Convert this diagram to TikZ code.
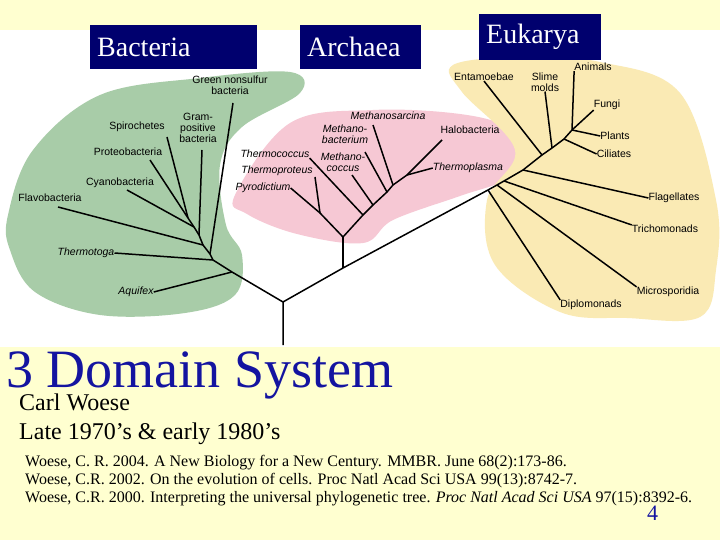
\documentclass[tikz,border=0pt]{standalone}
\usepackage{fontspec}
\setmainfont{Liberation Serif}
\newfontfamily\lab{Liberation Sans}
\begin{document}
\begin{tikzpicture}[x=1pt,y=-1pt,
  lb/.style={font=\lab\fontsize{10.5}{11}\selectfont,inner sep=0pt,align=center},
  il/.style={lb,font=\lab\itshape\fontsize{10.5}{11}\selectfont},
  br/.style={line width=1.5pt},
  hdr/.style={fill=hdrblue,text=white,font=\fontsize{28}{30}\selectfont,inner ysep=0pt,inner xsep=7pt,anchor=north west,text width=#1,align=left},
  ref/.style={font=\fontsize{16}{17}\selectfont,anchor=base west,inner sep=0pt}]
\definecolor{bg}{RGB}{255,255,208}
\definecolor{gblob}{RGB}{168,204,168}
\definecolor{pblob}{RGB}{246,200,212}
\definecolor{yblob}{RGB}{250,234,180}
\definecolor{hdrblue}{RGB}{0,0,110}
\definecolor{ttl}{RGB}{20,20,160}
\useasboundingbox (0,0) rectangle (720,540);
\fill[bg] (0,0) rectangle (720,540);
\fill[white] (0,30) rectangle (720,347);
% blobs
\fill[gblob] plot[smooth cycle,tension=0.6] coordinates{(8,215) (33,150) (100,95) (200,78) (290,72) (300,93) (242,127) (220,165) (226,225) (242,255) (235,295) (185,313) (100,315) (35,292) (10,250)};
\fill[pblob] plot[smooth cycle,tension=0.6] coordinates{(235,195) (290,123) (373,110) (460,114) (508,128) (522,157) (505,180) (460,196) (393,220) (363,243) (297,234) (247,214)};
\fill[yblob] plot[smooth cycle,tension=0.6] coordinates{(453,65) (520,57) (600,62) (680,93) (716,200) (716,270) (700,317) (627,318) (560,312) (495,265) (487,200) (515,150) (462,92)};
% headers
\node[hdr=153pt,minimum height=44pt] (hb) at (90,25) {Bacteria};
\node[hdr=107pt,minimum height=44pt] (ha) at (300,25) {Archaea};
\node[hdr=108pt,minimum height=46pt] (he) at (479,14) {Eukarya};
% trunk
\coordinate (root) at (283,345);
\coordinate (r1) at (283,302);
\coordinate (a0) at (343,268);
\coordinate (e1) at (488,190);
\coordinate (e2) at (497,185);
\coordinate (e3) at (504,181);
\coordinate (e4) at (523,170);
\coordinate (e5) at (542,155);
\coordinate (e6) at (552,148);
\coordinate (e7) at (564,139);
\coordinate (e8) at (572,130);
\draw[br] (root)--(r1)--(a0)--(e1)--(e2)--(e3)--(e4)--(e5)--(e6)--(e7)--(e8);
% eukarya leaves
\node[lb] (dip) at (591,305) {Diplomonads};
\node[lb] (mic) at (668,292) {Microsporidia};
\node[lb] (tri) at (665,229) {Trichomonads};
\node[lb] (fla) at (674,198) {Flagellates};
\node[lb] (ent) at (484,77) {Entamoebae};
\node[lb] (sli) at (545,82) {Slime\\molds};
\node[lb] (ani) at (593,67) {Animals};
\node[lb] (fun) at (607,105) {Fungi};
\node[lb] (pla) at (615,136) {Plants};
\node[lb] (cil) at (614,154) {Ciliates};
\draw[br] (e1)--(dip.north west);
\draw[br] (e2)--(mic.north west);
\draw[br] (e3)--(tri.north west);
\draw[br] (e4)--(fla.west);
\draw[br] (e5)--(ent.south);
\draw[br] (e6)--(sli.south);
\draw[br] (e8)--(ani.south west);
\draw[br] (e8)--(fun.south west);
\draw[br] (e8)--(pla.west);
\draw[br] (e7)--(cil.west);
% archaea
\coordinate (a1) at (343,237);
\coordinate (a2) at (320,213);
\coordinate (a3) at (363,215);
\coordinate (a4) at (373,205);
\coordinate (a5) at (387,192);
\coordinate (a6) at (393,185);
\coordinate (a7) at (407,175);
\draw[br] (a0)--(a1);
\node[il] (pyr) at (263,188) {Pyrodictium};
\node[il] (thp) at (277,171) {Thermoproteus};
\node[il] (thc) at (275,154) {Thermococcus};
\node[il] (mco) at (343,162) {Methano-\\coccus};
\node[il] (mba) at (345,134) {Methano-\\bacterium};
\node[il] (msa) at (388,116) {Methanosarcina};
\node[lb] (hal) at (470,130) {Halobacteria};
\node[il] (tpl) at (468,168) {Thermoplasma};
\draw[br] (a1)--(a2)--(pyr.east);
\draw[br] (a2)--(315,177);
\draw[br] (a1)--(a3)--(a4)--(a5)--(a6)--(a7)--(442,140);
\draw[br] (a3)--(thc.south east);
\draw[br] (a4)--(352,175);
\draw[br] (a5)--(365,152);
\draw[br] (a6)--(373,125);
\draw[br] (a7)--(tpl.west);
% bacteria
\coordinate (b1) at (232,272);
\coordinate (b2) at (213,260);
\coordinate (b3) at (210,254);
\coordinate (b4) at (203,245);
\coordinate (b5) at (199,235);
\coordinate (b6) at (194,227);
\coordinate (b7) at (188,218);
\draw[br] (r1)--(b1)--(b2)--(b3)--(b4)--(b5)--(b6)--(b7);
\node[il] (aqu) at (136,292) {Aquifex};
\node[il] (tht) at (86,253) {Thermotoga};
\node[lb] (gns) at (230,85) {Green nonsulfur\\bacteria};
\node[lb] (fla2) at (50,198) {Flavobacteria};
\node[lb] (cya) at (120,183) {Cyanobacteria};
\node[lb] (gpb) at (198,128) {Gram-\\positive\\bacteria};
\node[lb] (pro) at (128,152) {Proteobacteria};
\node[lb] (spi) at (137,127) {Spirochetes};
\draw[br] (b1)--(aqu.east);
\draw[br] (b2)--(tht.east);
\draw[br] (b3)--(233,103);
\draw[br] (b4)--(58,207);
\draw[br] (b5)--(202,150);
\draw[br] (b6)--(127,190);
\draw[br] (b7)--(150,160);
\draw[br] (b7)--(167,137);
% text
\node[font=\fontsize{54}{56}\selectfont,text=ttl,anchor=base west,inner sep=0pt] (title) at (6,387) {3 Domain System};
\node[font=\fontsize{24}{26}\selectfont,anchor=base west,inner sep=0pt] (cw) at (19,410) {Carl Woese};
\node[font=\fontsize{24}{26}\selectfont,anchor=base west,inner sep=0pt] (late) at (19,439) {Late 1970’s \& early 1980’s};
\node[ref] (r1t) at (25,466) {Woese, C. R. 2004. A New Biology for a New Century. MMBR. June 68(2):173-86.};
\node[ref] (r2t) at (25,484) {Woese, C.R. 2002. On the evolution of cells. Proc Natl Acad Sci USA 99(13):8742-7.};
\node[ref] (r3t) at (25,502) {Woese, C.R. 2000. Interpreting the universal phylogenetic tree. \textit{Proc Natl Acad Sci USA} 97(15):8392-6.};
\node[font=\fontsize{22}{24}\selectfont,text=ttl,anchor=base west,inner sep=0pt] (pg) at (647,520) {4};
\end{tikzpicture}
\end{document}
